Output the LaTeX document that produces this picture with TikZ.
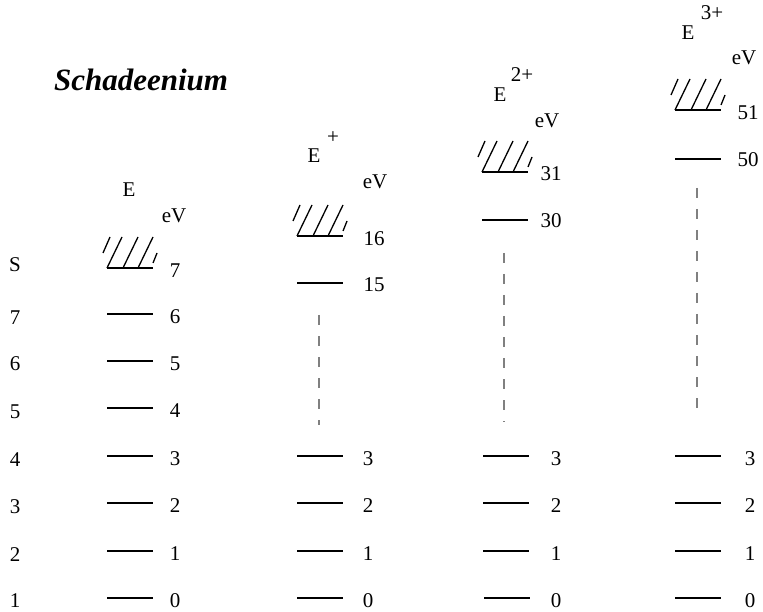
\documentclass[tikz,border=0pt]{standalone}
\usepackage{fontspec}
\setmainfont{Liberation Serif}
\begin{document}
\begin{tikzpicture}[x=1pt,y=-1pt,
  lab/.style={font=\fontsize{21}{24}\selectfont, inner sep=0pt},
  ttl/.style={font=\fontsize{31}{36}\selectfont\bfseries\itshape, inner sep=0pt},
  lvl/.style={line width=2.6pt},
  hat/.style={line width=1.3pt},
  dsh/.style={line width=1.5pt, gray, dash pattern=on 10pt off 11pt}]
\useasboundingbox (0,0) rectangle (763,612);
\newcommand\levline[2]{\draw[lvl] (#1,#2) -- ++(46,0);}
\newcommand\hatchlev[2]{%
  \draw[hat] (#1-4,#2-15) -- (#1+3,#2-31);
  \draw[hat] (#1,#2) -- (#1+15,#2-31);
  \draw[hat] (#1+16,#2) -- (#1+31,#2-31);
  \draw[hat] (#1+31,#2) -- (#1+46,#2-31);
  \draw[hat] (#1+46,#2-5) -- (#1+50,#2-15);
  \draw[lvl] (#1,#2) -- ++(46,0);}

% title
\node[ttl] (title) at (141,80) {Schadeenium};

% left column labels
\node[lab] (s1) at (15,601) {1};
\node[lab] (s2) at (15,555) {2};
\node[lab] (s3) at (15,507) {3};
\node[lab] (s4) at (15,460) {4};
\node[lab] (s5) at (15,412) {5};
\node[lab] (s6) at (15,364) {6};
\node[lab] (s7) at (15,318) {7};
\node[lab] (sS) at (15,265) {S};

% column 1: E
\node[lab] (e1) at (129,190) {E};
\node[lab] (ev1) at (174,216) {eV};
\levline{107}{598} \node[lab] (a0) at (175,601) {0};
\levline{107}{551} \node[lab] (a1) at (175,554) {1};
\levline{107}{503} \node[lab] (a2) at (175,506) {2};
\levline{107}{456} \node[lab] (a3) at (175,459) {3};
\levline{107}{408} \node[lab] (a4) at (175,411) {4};
\levline{107}{361} \node[lab] (a5) at (175,364) {5};
\levline{107}{314} \node[lab] (a6) at (175,317) {6};
\hatchlev{107}{268} \node[lab] (a7) at (175,271) {7};

% column 2: E+
\node[lab] (e2) at (314,156) {E};
\node[lab] (p2) at (333,138) {+};
\node[lab] (ev2) at (375,182) {eV};
\levline{297}{598} \node[lab] (b0) at (368,601) {0};
\levline{297}{551} \node[lab] (b1) at (368,554) {1};
\levline{297}{503} \node[lab] (b2) at (368,506) {2};
\levline{297}{456} \node[lab] (b3) at (368,459) {3};
\levline{297}{283} \node[lab] (b15) at (374,285) {15};
\hatchlev{297}{236} \node[lab] (b16) at (374,239) {16};
\draw[dsh] (319,315) -- (319,425);

% column 3: E2+
\node[lab] (e3) at (500,95) {E};
\node[lab] (p3) at (522,75) {2+};
\node[lab] (ev3) at (547,121) {eV};
\levline{484}{598} \node[lab] (c0) at (556,601) {0};
\levline{483}{551} \node[lab] (c1) at (556,554) {1};
\levline{483}{503} \node[lab] (c2) at (556,506) {2};
\levline{483}{456} \node[lab] (c3) at (556,459) {3};
\levline{482}{220} \node[lab] (c30) at (551,221) {30};
\hatchlev{482}{172} \node[lab] (c31) at (551,174) {31};
\draw[dsh] (504,253) -- (504,422);

% column 4: E3+
\node[lab] (e4) at (688,33) {E};
\node[lab] (p4) at (712,13) {3+};
\node[lab] (ev4) at (744,58) {eV};
\levline{675}{598} \node[lab] (d0) at (750,601) {0};
\levline{675}{551} \node[lab] (d1) at (750,554) {1};
\levline{675}{503} \node[lab] (d2) at (750,506) {2};
\levline{675}{456} \node[lab] (d3) at (750,459) {3};
\levline{675}{159} \node[lab] (d50) at (748,160) {50};
\hatchlev{675}{110} \node[lab] (d51) at (748,113) {51};
\draw[dsh] (697,188) -- (697,410);
\end{tikzpicture}
\end{document}
